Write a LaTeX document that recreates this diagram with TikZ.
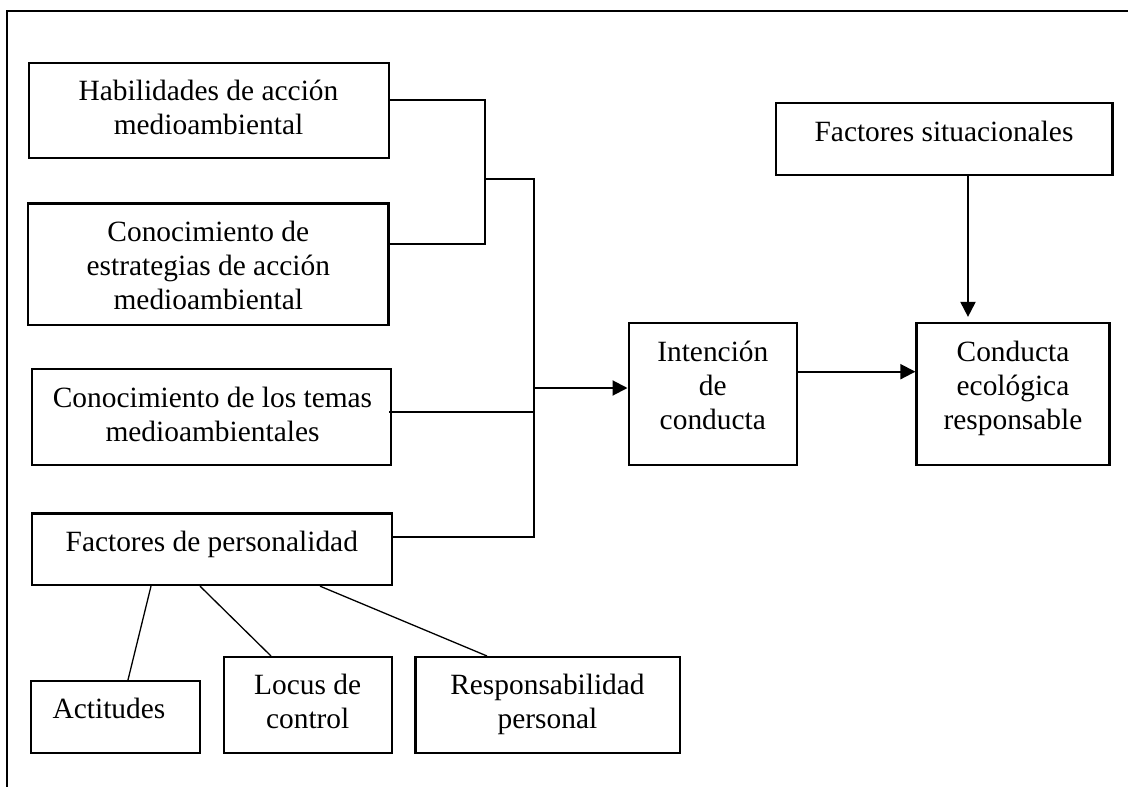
\documentclass[tikz,border=0pt]{standalone}
\usepackage{fontspec}
\setmainfont{Liberation Serif}
\usetikzlibrary{arrows.meta}
\begin{document}
\begin{tikzpicture}[x=1pt,y=-1pt,
  box/.style={draw, line width=2.2pt, rectangle, inner sep=0pt},
  txt/.style={anchor=base, align=center, inner sep=0pt, font=\fontsize{29.4}{34}\selectfont},
  conn/.style={line width=2pt},
  thin/.style={line width=1.3pt},
  arr/.style={line width=2pt, -{Triangle[length=15pt,width=15pt]}}
]
\useasboundingbox (0,0) rectangle (1128,787);
% outer frame (top and left only)
\coordinate (fbl) at (7.3,790);
\coordinate (fc) at (7.3,10.7);
\coordinate (ftr) at (1130,10.7);
\draw[line width=2.2pt] (fbl) -- (fc) -- (ftr);

% boxes
\node[box, minimum width=360pt, minimum height=95pt] (hab) at (209,110.2) {};
\node[box, minimum width=360.5pt, minimum height=121.5pt] (est) at (208.3,264.3) {};
\node[box, minimum width=359pt, minimum height=95.7pt] (tem) at (211.5,417.2) {};
\node[box, minimum width=360.4pt, minimum height=71.5pt] (pers) at (211.8,549.3) {};
\node[box, minimum width=169pt, minimum height=72pt] (act) at (115.5,717) {};
\node[box, minimum width=168pt, minimum height=96pt] (loc) at (307.7,705.1) {};
\node[box, minimum width=264.5pt, minimum height=96pt] (res) at (547.8,705.1) {};
\node[box, minimum width=168.4pt, minimum height=142pt] (int) at (712.8,394) {};
\node[box, minimum width=193pt, minimum height=142pt] (con) at (1013,394) {};
\node[box, minimum width=336.5pt, minimum height=72.3pt] (sit) at (944.2,138.8) {};

% texts (base anchor = baseline of the last line)
\node[txt] (habt) at (208.5,134.4) {Habilidades de acción\\medioambiental};
\node[txt] (estt) at (208.3,309) {Conocimiento de\\estrategias de acción\\medioambiental};
\node[txt] (temt) at (212.5,441.7) {Conocimiento de los temas\\medioambientales};
\node[txt] (perst) at (211.8,551.7) {Factores de personalidad};
\node[txt] (actt) at (109,718) {Actitudes};
\node[txt] (loct) at (307.7,728.5) {Locus de\\control};
\node[txt] (rest) at (547.5,728.5) {Responsabilidad\\personal};
\node[txt] (intt) at (712.8,429) {Intención\\de\\conducta};
\node[txt] (cont) at (1013,429.5) {Conducta\\ecológica\\responsable};
\node[txt] (sitt) at (944,141.7) {Factores situacionales};

% junction coordinates
\coordinate (j1) at (485,100);
\coordinate (j2) at (485,244);
\coordinate (jm) at (485,179);
\coordinate (k1) at (534,179);
\coordinate (k2) at (534,537);
\coordinate (kt) at (534,412);
\coordinate (ka) at (534,388);
\coordinate (ic) at (800,371.7);
\coordinate (sa) at (968,175);

% connectors
\draw[conn] (hab.east |- j1) -- (j1) -- (j2) -- (est.east |- j2);
\draw[conn] (jm) -- (k1) -- (k2) -- (pers.east |- k2);
\draw[conn] ([xshift=-3pt]tem.east |- kt) -- (kt);
\draw[arr] (ka) -- (int.west |- ka);
\draw[arr] (int.east |- ic) -- (con.west |- ic);
\draw[arr, shorten >=5pt] (sit.south -| sa) -- (con.north -| sa);

% personality branches
\draw[thin] (pers.south -| 151,0) -- (act.north -| 128,0);
\draw[thin] (pers.south -| 200,0) -- (loc.north -| 271,0);
\draw[thin] (pers.south -| 320,0) -- (res.north -| 487,0);
\end{tikzpicture}
\end{document}
